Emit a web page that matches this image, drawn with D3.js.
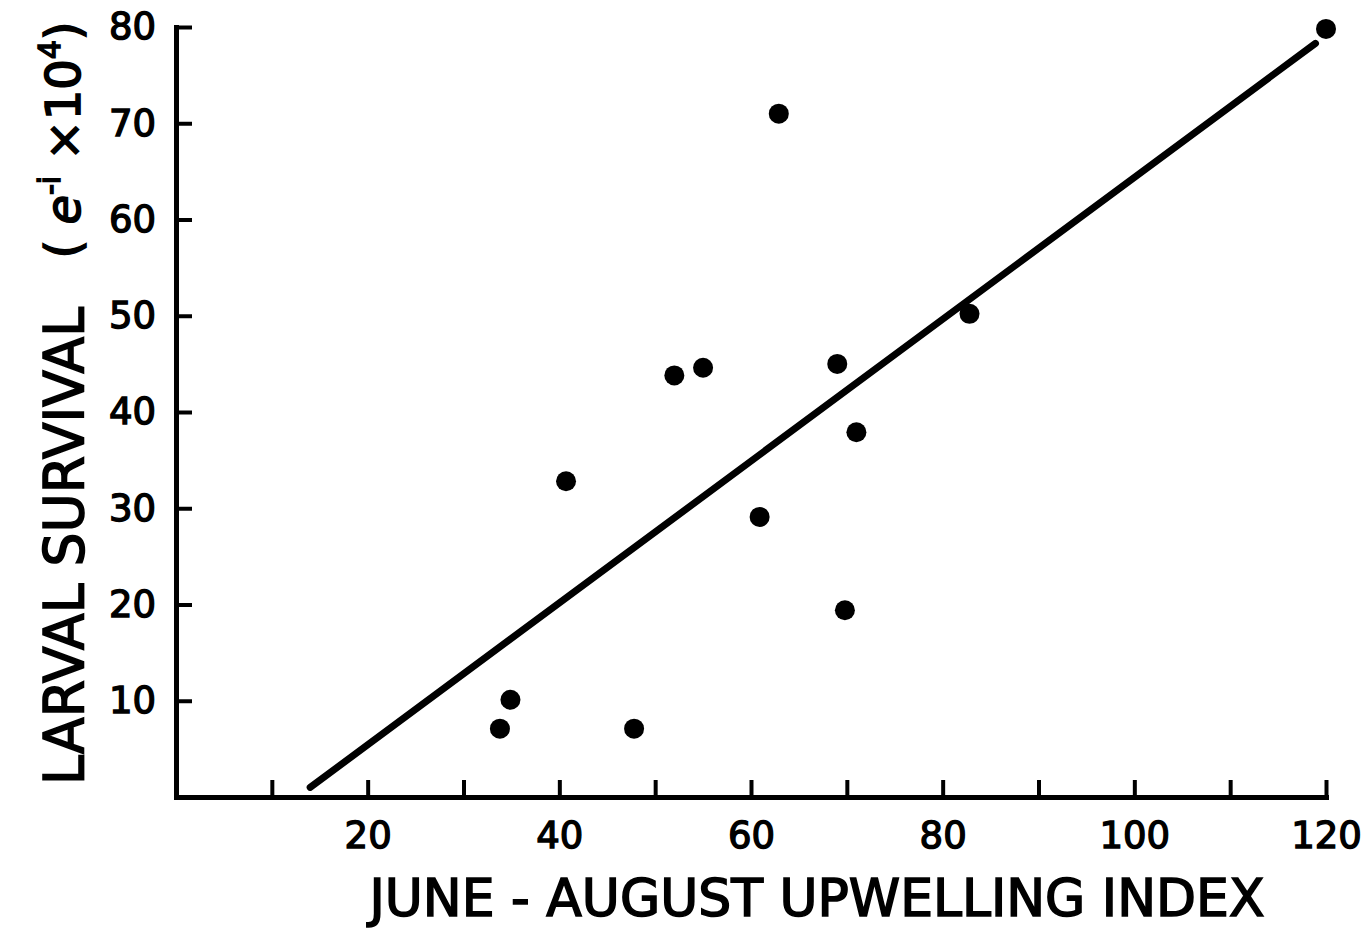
<!DOCTYPE html>
<html>
<head>
<meta charset="utf-8">
<script src="https://cdn.jsdelivr.net/npm/d3@7"></script>
<style>
  body { margin: 0; background: #fff; }
  svg { display: block; }
  .axis path, .axis line { stroke: #000; }
  .axis text { font-family: "DejaVu Sans", sans-serif; font-size: 37px; fill: #000; stroke: #000; stroke-width: 1.4px; }
  .title { font-family: "DejaVu Sans", sans-serif; fill: #000; stroke: #000; stroke-width: 1.6px; }
</style>
</head>
<body>
<div id="chart"></div>
<script>
// Larval survival vs June-August upwelling index

const WIDTH = 1366;
const HEIGHT = 928;

// data
const upwelling = [120, 62.9, 82.8, 52.0, 55.0, 69.0, 71.0, 40.7, 60.9, 69.8, 34.9, 33.8, 47.8];
const survival  = [79.8, 71.0, 50.2, 43.8, 44.6, 45.0, 37.9, 32.8, 29.1, 19.4, 10.1, 7.1, 7.1];

// fitted regression line end points
const fitX = [14.0, 118.9];
const fitY = [1.0, 78.3];

const xTicks = [10, 20, 30, 40, 50, 60, 70, 80, 90, 100, 110, 120];
const xLabels = [20, 40, 60, 80, 100, 120];
const yTicks = [10, 20, 30, 40, 50, 60, 70, 80];

const margin = { top: 27, right: 40, bottom: 131, left: 176 };
const innerW = 1326 - margin.left;
const innerH = 797 - margin.top;

const svg = d3.select("#chart")
  .append("svg")
  .attr("width", WIDTH)
  .attr("height", HEIGHT);

const g = svg.append("g")
  .attr("transform", `translate(${margin.left},${margin.top})`);

const xScale = d3.scaleLinear().domain([0, 120]).range([0, innerW]);
const yScale = d3.scaleLinear().domain([0, 80]).range([innerH, 0]);

// x axis, ticks pointing up into the plot
const xAxis = g.append("g")
  .attr("class", "axis")
  .attr("transform", `translate(0,${innerH})`)
  .call(d3.axisBottom(xScale)
    .tickValues(xTicks)
    .tickSizeInner(-17)
    .tickSizeOuter(0)
    .tickPadding(51)
    .tickFormat((d) => (xLabels.includes(d) ? d : "")));
xAxis.select(".domain").attr("stroke-width", 5).attr("stroke-linecap", "square");
xAxis.selectAll(".tick line").attr("stroke-width", 4);
xAxis.selectAll(".tick text").attr("dy", "0");

// y axis, ticks pointing right into the plot
const yAxis = g.append("g")
  .attr("class", "axis")
  .call(d3.axisLeft(yScale)
    .tickValues(yTicks)
    .tickSizeInner(-16)
    .tickSizeOuter(0)
    .tickPadding(20));
yAxis.select(".domain").attr("stroke-width", 5).attr("stroke-linecap", "square");
yAxis.selectAll(".tick line").attr("stroke-width", 4);

// regression line
g.append("line")
  .attr("x1", xScale(fitX[0]))
  .attr("y1", yScale(fitY[0]))
  .attr("x2", xScale(fitX[1]))
  .attr("y2", yScale(fitY[1]))
  .attr("stroke", "#000")
  .attr("stroke-width", 7)
  .attr("stroke-linecap", "round");

// points
g.append("g")
  .selectAll("circle")
  .data(upwelling.map((x, i) => ({ x, y: survival[i] })))
  .join("circle")
  .attr("cx", (d) => xScale(d.x))
  .attr("cy", (d) => yScale(d.y))
  .attr("r", 10)
  .attr("fill", "#000");

// axis titles
svg.append("text")
  .attr("class", "title")
  .attr("x", 817)
  .attr("y", 916)
  .attr("text-anchor", "middle")
  .attr("font-size", 52)
  .attr("textLength", 895)
  .attr("lengthAdjust", "spacingAndGlyphs")
  .text("JUNE - AUGUST UPWELLING INDEX");

svg.append("text")
  .attr("class", "title")
  .attr("transform", "translate(83,546) rotate(-90)")
  .attr("text-anchor", "middle")
  .attr("font-size", 55)
  .attr("textLength", 478)
  .attr("lengthAdjust", "spacingAndGlyphs")
  .text("LARVAL SURVIVAL");

const unit = svg.append("text")
  .attr("class", "title")
  .attr("transform", "translate(80,140) rotate(-90)")
  .attr("text-anchor", "middle")
  .attr("font-size", 48);
unit.append("tspan").text("( ");
unit.append("tspan").attr("font-style", "italic").text("e");
unit.append("tspan").attr("font-size", 30).attr("dy", -20).text("-i");
unit.append("tspan").attr("dy", 20).text(" ×10");
unit.append("tspan").attr("font-size", 30).attr("dy", -20).text("4");
unit.append("tspan").attr("dy", 20).text(")");
</script>
</body>
</html>
